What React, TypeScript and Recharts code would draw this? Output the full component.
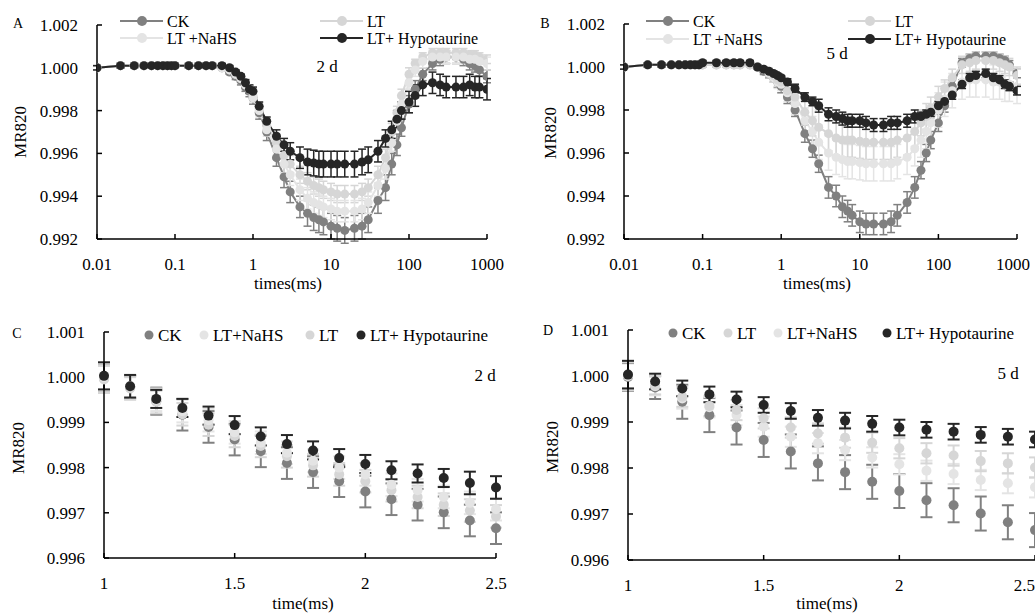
import React from "react";
import { LineChart, Line, XAxis, YAxis, ErrorBar, ScatterChart, Scatter } from "recharts";

const FONT = "Liberation Serif, serif";
const COLORS = { ck: "#808080", lt: "#d6d6d6", nahs: "#e4e4e4", hyp: "#262626" };

// MR820 induction, time points in ms (log axis)
const times = [
  0.01, 0.02, 0.03, 0.04, 0.05, 0.06, 0.07, 0.08, 0.09,
  0.1, 0.15, 0.2, 0.25, 0.3, 0.4, 0.5, 0.6, 0.7, 0.8, 0.9,
  1, 1.2, 1.5, 2, 2.5, 3, 4, 5, 6, 7, 8,
  10, 12, 15, 20, 25, 30, 40, 50, 60, 70, 80,
  100, 120, 150, 200, 250, 300, 400, 500, 600, 700, 800, 1000,
];
const logTicks = [0.01, 0.1, 1, 10, 100, 1000];

// 2 d
const ck2 = [
  1.0, 1.0001, 1.0001, 1.0001, 1.0001, 1.0001, 1.0001, 1.0001, 1.0001,
  1.0001, 1.0001, 1.0001, 1.0001, 1.0001, 1.0, 0.9998, 0.9996, 0.9994, 0.9991, 0.9989,
  0.9986, 0.9979, 0.997, 0.9958, 0.9949, 0.9942, 0.9935, 0.9932, 0.993, 0.9929, 0.9928,
  0.9926, 0.9925, 0.9924, 0.9925, 0.9926, 0.9929, 0.9938, 0.9944, 0.9955, 0.9964, 0.9972,
  0.9983, 0.999, 0.9997, 1.0002, 1.0004, 1.0005, 1.0005, 1.0004, 1.0002, 1.0001, 0.9999, 0.9996,
];
const lt2 = [
  1.0, 1.0001, 1.0001, 1.0001, 1.0001, 1.0001, 1.0001, 1.0001, 1.0001,
  1.0001, 1.0001, 1.0001, 1.0001, 1.0001, 1.0, 0.9999, 0.9997, 0.9995, 0.9992, 0.999,
  0.9987, 0.9981, 0.9973, 0.9965, 0.9959, 0.9955, 0.995, 0.9947, 0.9945, 0.9944, 0.9943,
  0.9942, 0.9941, 0.9941, 0.9941, 0.9942, 0.9944, 0.995, 0.9958, 0.997, 0.9979, 0.9987,
  0.9997, 1.0002, 1.0005, 1.0007, 1.0007, 1.0007, 1.0007, 1.0007, 1.0006, 1.0006, 1.0005, 1.0004,
];
const nahs2 = [
  1.0, 1.0001, 1.0001, 1.0001, 1.0001, 1.0001, 1.0001, 1.0001, 1.0001,
  1.0001, 1.0001, 1.0001, 1.0001, 1.0001, 1.0, 0.9999, 0.9997, 0.9995, 0.9992, 0.999,
  0.9986, 0.998, 0.9971, 0.9962, 0.9955, 0.995, 0.9943, 0.9939, 0.9937, 0.9936, 0.9935,
  0.9934, 0.9933, 0.9933, 0.9933, 0.9934, 0.9937, 0.9945, 0.9953, 0.9965, 0.9975, 0.9983,
  0.9993, 0.9999, 1.0003, 1.0005, 1.0005, 1.0005, 1.0005, 1.0005, 1.0004, 1.0004, 1.0003, 1.0002,
];
const hyp2 = [
  1.0, 1.0001, 1.0001, 1.0001, 1.0001, 1.0001, 1.0001, 1.0001, 1.0001,
  1.0001, 1.0001, 1.0001, 1.0001, 1.0001, 1.0001, 1.0, 0.9998, 0.9996, 0.9993, 0.999,
  0.9989, 0.9982, 0.9975, 0.9968, 0.9964, 0.9961, 0.9958, 0.9956, 0.99555, 0.9955, 0.9955,
  0.9955, 0.9955, 0.9955, 0.9955, 0.9956, 0.9957, 0.9961, 0.9967, 0.9971, 0.9976, 0.998,
  0.9984, 0.9987, 0.9992, 0.9993, 0.9992, 0.9991, 0.9991, 0.9991, 0.9992, 0.9991, 0.9991, 0.999,
];
const ck2Err = [
  0.0001, 0.0001, 0.0001, 0.0001, 0.0001, 0.0001, 0.0001, 0.0001, 0.0001,
  0.0001, 0.0001, 0.0001, 0.0001, 0.0001, 0.0001, 0.0001, 0.00015, 0.0002, 0.0002, 0.00025,
  0.0003, 0.0003, 0.0004, 0.0004, 0.0005, 0.0005, 0.0005, 0.0006, 0.0006, 0.0006, 0.0006,
  0.0006, 0.0006, 0.0006, 0.0006, 0.0006, 0.0006, 0.0006, 0.0006, 0.0005, 0.0005, 0.0004,
  0.0004, 0.0004, 0.0003, 0.0003, 0.0003, 0.0003, 0.0003, 0.0003, 0.0003, 0.0003, 0.0003, 0.0003,
];
const lt2Err = [
  0.0001, 0.0001, 0.0001, 0.0001, 0.0001, 0.0001, 0.0001, 0.0001, 0.0001,
  0.0001, 0.0001, 0.0001, 0.0001, 0.0001, 0.0001, 0.0001, 0.0001, 0.00015, 0.0002, 0.0002,
  0.0002, 0.0003, 0.0003, 0.0004, 0.0004, 0.0004, 0.0004, 0.0004, 0.0004, 0.0004, 0.0004,
  0.0004, 0.0004, 0.0004, 0.0004, 0.0004, 0.0004, 0.0004, 0.0004, 0.0004, 0.0003, 0.0003,
  0.0003, 0.0002, 0.0002, 0.0002, 0.0002, 0.0002, 0.0002, 0.0002, 0.0002, 0.0002, 0.0002, 0.0002,
];
const nahs2Err = [
  0.0001, 0.0001, 0.0001, 0.0001, 0.0001, 0.0001, 0.0001, 0.0001, 0.0001,
  0.0001, 0.0001, 0.0001, 0.0001, 0.0001, 0.0001, 0.0001, 0.0001, 0.00015, 0.0002, 0.0002,
  0.0002, 0.0003, 0.0003, 0.0004, 0.0004, 0.0005, 0.0005, 0.0005, 0.0005, 0.0005, 0.0005,
  0.0005, 0.0005, 0.0005, 0.0005, 0.0005, 0.0005, 0.0005, 0.0005, 0.0004, 0.0004, 0.0003,
  0.0003, 0.0003, 0.0003, 0.0003, 0.0003, 0.0003, 0.0003, 0.0003, 0.0003, 0.0003, 0.0003, 0.0003,
];
const hyp2Err = [
  0.0001, 0.0001, 0.0001, 0.0001, 0.0001, 0.0001, 0.0001, 0.0001, 0.0001,
  0.0001, 0.0001, 0.0001, 0.0001, 0.0001, 0.0001, 0.0001, 0.0001, 0.0001, 0.00015, 0.0002,
  0.0002, 0.0002, 0.0002, 0.0003, 0.0003, 0.0004, 0.0005, 0.0006, 0.0006, 0.0006, 0.0006,
  0.0006, 0.0006, 0.0006, 0.0006, 0.0006, 0.0006, 0.0005, 0.0004, 0.0004, 0.0004, 0.0004,
  0.0005, 0.0005, 0.0005, 0.0005, 0.0005, 0.0005, 0.0005, 0.0005, 0.0005, 0.0005, 0.0005, 0.0005,
];

// 5 d
const ck5 = [
  1.0, 1.0001, 1.0001, 1.0001, 1.0001, 1.0001, 1.0001, 1.0001, 1.0001,
  1.0001, 1.0001, 1.0001, 1.0001, 1.0001, 1.0001, 1.0, 0.9998, 0.9997, 0.9995, 0.9993,
  0.9991, 0.9986, 0.998, 0.9969, 0.9962, 0.9955, 0.9944, 0.994, 0.9935, 0.9933, 0.9931,
  0.9928, 0.9927, 0.9927, 0.9927, 0.9928, 0.9931, 0.9937, 0.9944, 0.9952, 0.996, 0.9966,
  0.9974, 0.9982, 0.9991, 1.0002, 1.0004, 1.0005, 1.0005, 1.0005, 1.0004, 1.0003, 1.0001, 0.9997,
];
const lt5 = [
  1.0, 1.0001, 1.0001, 1.0001, 1.0001, 1.0001, 1.0001, 1.0001, 1.0001,
  1.0001, 1.0001, 1.0001, 1.0001, 1.0001, 1.0001, 1.0, 0.9999, 0.9998, 0.9996, 0.9994,
  0.9993, 0.9989, 0.9986, 0.9979, 0.9975, 0.9972, 0.9969, 0.9967, 0.9966, 0.9966, 0.9966,
  0.99655, 0.9965, 0.9965, 0.9965, 0.9965, 0.9966, 0.9967, 0.997, 0.9974, 0.9977, 0.9981,
  0.9986, 0.999, 0.9995, 1.0001, 1.0002, 1.0003, 1.0003, 1.0003, 1.0002, 1.0001, 1.0, 0.9996,
];
const nahs5 = [
  1.0, 1.0001, 1.0001, 1.0001, 1.0001, 1.0001, 1.0001, 1.0001, 1.0001,
  1.0001, 1.0001, 1.0001, 1.0001, 1.0001, 1.0001, 1.0, 0.9999, 0.9997, 0.9995, 0.9993,
  0.9992, 0.9988, 0.9983, 0.9975, 0.997, 0.9965, 0.996, 0.9958, 0.9957, 0.9956, 0.9956,
  0.99555, 0.9955, 0.9955, 0.9955, 0.9955, 0.9956, 0.9958, 0.9962, 0.9966, 0.997, 0.9974,
  0.998, 0.9985, 0.9989, 0.9993, 0.9994, 0.9994, 0.9994, 0.9993, 0.9993, 0.9992, 0.9992, 0.9991,
];
const hyp5 = [
  1.0, 1.0001, 1.0001, 1.0001, 1.0001, 1.0001, 1.0001, 1.0001, 1.0001,
  1.0002, 1.0002, 1.0002, 1.0002, 1.0002, 1.0002, 1.0, 0.9999, 0.9998, 0.9997, 0.9996,
  0.9995, 0.9993, 0.999, 0.9986, 0.9984, 0.9982, 0.9978, 0.9977, 0.9976, 0.9975, 0.9975,
  0.9975, 0.9974, 0.9973, 0.9973, 0.9974, 0.9974, 0.9975, 0.9977, 0.9977, 0.9978, 0.9979,
  0.9982, 0.9984, 0.9987, 0.9992, 0.9995, 0.9996, 0.9997, 0.9995, 0.9994, 0.9992, 0.9991, 0.9989,
];
const ck5Err = [
  0.0001, 0.0001, 0.0001, 0.0001, 0.0001, 0.0001, 0.0001, 0.0001, 0.0001,
  0.0001, 0.0001, 0.0001, 0.0001, 0.0001, 0.0001, 0.0001, 0.00015, 0.0002, 0.0002, 0.00025,
  0.0003, 0.0003, 0.0003, 0.0004, 0.0004, 0.0004, 0.0005, 0.0005, 0.0005, 0.0005, 0.0005,
  0.0005, 0.0005, 0.0005, 0.0005, 0.0005, 0.0005, 0.0005, 0.0005, 0.0004, 0.0004, 0.0004,
  0.0004, 0.0003, 0.0003, 0.0002, 0.0002, 0.0002, 0.0002, 0.0002, 0.0002, 0.0002, 0.0002, 0.0002,
];
const lt5Err = [
  0.0001, 0.0001, 0.0001, 0.0001, 0.0001, 0.0001, 0.0001, 0.0001, 0.0001,
  0.0001, 0.0001, 0.0001, 0.0001, 0.0001, 0.0001, 0.0001, 0.0001, 0.00015, 0.0002, 0.0003,
  0.0003, 0.0004, 0.0005, 0.0006, 0.0007, 0.0008, 0.0008, 0.0008, 0.0008, 0.0008, 0.0008,
  0.0008, 0.0008, 0.0008, 0.0008, 0.0008, 0.0008, 0.0008, 0.0007, 0.0006, 0.0006, 0.0005,
  0.0005, 0.0004, 0.0004, 0.0004, 0.0004, 0.0004, 0.0004, 0.0004, 0.0004, 0.0004, 0.0004, 0.0004,
];
const nahs5Err = [
  0.0001, 0.0001, 0.0001, 0.0001, 0.0001, 0.0001, 0.0001, 0.0001, 0.0001,
  0.0001, 0.0001, 0.0001, 0.0001, 0.0001, 0.0001, 0.0001, 0.0001, 0.00015, 0.0002, 0.0003,
  0.0003, 0.0004, 0.0005, 0.0006, 0.0007, 0.0008, 0.0008, 0.0008, 0.0008, 0.0008, 0.0008,
  0.0008, 0.0008, 0.0008, 0.0008, 0.0008, 0.0008, 0.0008, 0.0008, 0.0008, 0.0008, 0.0008,
  0.0008, 0.0008, 0.0008, 0.0008, 0.0008, 0.0008, 0.0008, 0.0008, 0.0008, 0.0008, 0.0008, 0.0008,
];
const hyp5Err = [
  0.0001, 0.0001, 0.0001, 0.0001, 0.0001, 0.0001, 0.0001, 0.0001, 0.0001,
  0.0001, 0.0001, 0.0001, 0.0001, 0.0001, 0.0001, 0.0001, 0.0001, 0.0001, 0.0001, 0.0001,
  0.0001, 0.00015, 0.0002, 0.0002, 0.0002, 0.0003, 0.0003, 0.0003, 0.0003, 0.0003, 0.0003,
  0.0003, 0.0003, 0.0003, 0.0003, 0.0003, 0.0003, 0.0003, 0.0003, 0.0002, 0.0002, 0.0002,
  0.0002, 0.0002, 0.0002, 0.0002, 0.0002, 0.0002, 0.0002, 0.0002, 0.0002, 0.0002, 0.0002, 0.0002,
];

// 1 - 2.5 ms detail
const tDetail = [1, 1.1, 1.2, 1.3, 1.4, 1.5, 1.6, 1.7, 1.8, 1.9, 2, 2.1, 2.2, 2.3, 2.4, 2.5];
const linTicks = [1, 1.5, 2, 2.5];

const ckC = [0.99998, 0.99978, 0.99947, 0.99917, 0.9989, 0.99862, 0.99836, 0.9981, 0.9979, 0.9977, 0.99747, 0.9973, 0.99718, 0.99701, 0.99683, 0.99666];
const nahsC = [1.0, 0.9998, 0.9995, 0.99925, 0.99905, 0.99878, 0.99855, 0.99833, 0.99815, 0.998, 0.99785, 0.99762, 0.9975, 0.99735, 0.99722, 0.99708];
const ltC = [0.99995, 0.99975, 0.99945, 0.99918, 0.99895, 0.9987, 0.99848, 0.99825, 0.99805, 0.99785, 0.9977, 0.9975, 0.99735, 0.99718, 0.99705, 0.99692];
const hypC = [1.00003, 0.9998, 0.99952, 0.99932, 0.99915, 0.99894, 0.99869, 0.99852, 0.99838, 0.99821, 0.99808, 0.99794, 0.99787, 0.99777, 0.99766, 0.99756];
const ckCErr = [0.0003, 0.00025, 0.0003, 0.00035, 0.00035, 0.00035, 0.00035, 0.00035, 0.00035, 0.00035, 0.00035, 0.00035, 0.00035, 0.00035, 0.00035, 0.00035];
const nahsCErr = [0.0003, 0.00025, 0.00025, 0.00025, 0.00025, 0.00025, 0.00025, 0.00025, 0.00025, 0.00025, 0.00025, 0.00025, 0.00025, 0.00025, 0.00025, 0.00025];
const ltCErr = [0.0003, 0.00025, 0.00025, 0.00025, 0.00025, 0.00025, 0.00025, 0.00025, 0.00025, 0.00025, 0.00025, 0.00025, 0.00025, 0.00025, 0.00025, 0.00025];
const hypCErr = [0.0003, 0.00025, 0.0002, 0.0002, 0.0002, 0.0002, 0.0002, 0.0002, 0.0002, 0.0002, 0.0002, 0.0002, 0.0002, 0.0002, 0.00025, 0.00025];

const ckD = [0.99998, 0.99975, 0.99944, 0.99915, 0.99888, 0.99861, 0.99836, 0.9981, 0.99791, 0.9977, 0.9975, 0.9973, 0.99719, 0.99701, 0.99682, 0.99665];
const ltD = [1.0, 0.9998, 0.99955, 0.99935, 0.99926, 0.99908, 0.99888, 0.99875, 0.99866, 0.99855, 0.99843, 0.99832, 0.99827, 0.99815, 0.9981, 0.99801];
const nahsD = [1.0, 0.99978, 0.99951, 0.99932, 0.99915, 0.9989, 0.99868, 0.99854, 0.99839, 0.99823, 0.99808, 0.99794, 0.99787, 0.99774, 0.99767, 0.99758];
const hypD = [1.00003, 0.99988, 0.99973, 0.9996, 0.99949, 0.99937, 0.99924, 0.99909, 0.99903, 0.99896, 0.99888, 0.99883, 0.99879, 0.99872, 0.99868, 0.99862];
const ckDErr = [0.0003, 0.00025, 0.00037, 0.00037, 0.00037, 0.00037, 0.00037, 0.00037, 0.00037, 0.00037, 0.00037, 0.00037, 0.00037, 0.00037, 0.00037, 0.00037];
const ltDErr = [0.0003, 0.0002, 0.00022, 0.00022, 0.00022, 0.00022, 0.00022, 0.00022, 0.00022, 0.00022, 0.00022, 0.00022, 0.00022, 0.00022, 0.00022, 0.00022];
const nahsDErr = [0.0003, 0.0002, 0.00022, 0.00022, 0.00022, 0.00022, 0.00022, 0.00022, 0.00022, 0.00022, 0.00022, 0.00022, 0.00022, 0.00022, 0.00022, 0.00022];
const hypDErr = [0.0003, 0.00017, 0.00017, 0.00017, 0.00017, 0.00017, 0.00017, 0.00017, 0.00017, 0.00017, 0.00017, 0.00017, 0.00017, 0.00017, 0.00017, 0.00017];

const FS = 17;
const tickStyle = { fontFamily: FONT, fontSize: FS, fill: "#000" };
const axisLine = { stroke: "#000", strokeWidth: 1.5 };

type S = { key: string; vals: number[]; err: number[]; color: string };

function LogPanel({ series, left, margin }: { series: S[]; left: number; margin: any }) {
  const data = times.map((t, i) => {
    const row: any = { t };
    series.forEach((s) => {
      row[s.key] = s.vals[i];
      row[s.key + "E"] = s.err[i];
    });
    return row;
  });
  return (
    <div style={{ position: "absolute", left, top: 0 }}>
      <LineChart width={515} height={300} data={data} margin={margin}>
        <XAxis
          dataKey="t"
          type="number"
          scale="log"
          domain={[0.01, 1000]}
          ticks={logTicks}
          allowDataOverflow
          height={30}
          tick={tickStyle}
          tickSize={-5}
          tickMargin={24}
          axisLine={axisLine}
          tickLine={axisLine}
        />
        <YAxis
          type="number"
          domain={[0.992, 1.002]}
          ticks={[0.992, 0.994, 0.996, 0.998, 1.0, 1.002]}
          allowDataOverflow
          width={60}
          tick={tickStyle}
          tickFormatter={(v: number) => v.toFixed(3)}
          tickSize={-5}
          tickMargin={24}
          axisLine={axisLine}
          tickLine={axisLine}
        />
        {series.map((s) => (
          <Line
            key={s.key}
            dataKey={s.key}
            stroke={s.color}
            strokeWidth={2}
            dot={{ r: 4.5, fill: s.color, stroke: "none" }}
            activeDot={false}
            isAnimationActive={false}
          >
            <ErrorBar dataKey={s.key + "E"} direction="y" width={4} stroke={s.color} strokeWidth={1.5} />
          </Line>
        ))}
      </LineChart>
    </div>
  );
}

function DetailPanel({ series, left, margin }: { series: S[]; left: number; margin: any }) {
  return (
    <div style={{ position: "absolute", left, top: 300 }}>
      <ScatterChart width={520} height={316} margin={margin}>
        <XAxis
          dataKey="x"
          type="number"
          domain={[1, 2.5]}
          ticks={linTicks}
          height={30}
          tick={tickStyle}
          tickSize={-5}
          tickMargin={24}
          axisLine={axisLine}
          tickLine={axisLine}
        />
        <YAxis
          dataKey="y"
          type="number"
          domain={[0.996, 1.001]}
          ticks={[0.996, 0.997, 0.998, 0.999, 1.0, 1.001]}
          width={60}
          tick={tickStyle}
          tickFormatter={(v: number) => v.toFixed(3)}
          tickSize={-5}
          tickMargin={24}
          axisLine={axisLine}
          tickLine={axisLine}
        />
        {series.map((s) => (
          <Scatter
            key={s.key}
            data={tDetail.map((x, i) => ({ x, y: s.vals[i], e: s.err[i] }))}
            fill={s.color}
            isAnimationActive={false}
            shape={(p: any) => <circle cx={p.cx} cy={p.cy} r={5} fill={s.color} />}
          >
            <ErrorBar dataKey="e" direction="y" width={6} stroke={s.color} strokeWidth={2} />
          </Scatter>
        ))}
      </ScatterChart>
    </div>
  );
}

function LineKey({ x, y, color, label }: { x: number; y: number; color: string; label: string }) {
  return (
    <g>
      <line x1={x} x2={x + 43} y1={y} y2={y} stroke={color} strokeWidth={2} />
      <circle cx={x + 22} cy={y} r={5} fill={color} />
      <text x={x + 47} y={y} dominantBaseline="central" fontFamily={FONT} fontSize={16}>
        {label}
      </text>
    </g>
  );
}

function DotKey({ x, y, color, label }: { x: number; y: number; color: string; label: string }) {
  return (
    <g>
      <circle cx={x} cy={y} r={4.5} fill={color} />
      <text x={x + 9} y={y} dominantBaseline="central" fontFamily={FONT} fontSize={FS}>
        {label}
      </text>
    </g>
  );
}

function T({ x, y, s, size = FS, rot = false }: { x: number; y: number; s: string; size?: number; rot?: boolean }) {
  return (
    <text
      x={x}
      y={y}
      textAnchor="middle"
      dominantBaseline="central"
      fontFamily={FONT}
      fontSize={size}
      transform={rot ? `rotate(-90 ${x} ${y})` : undefined}
    >
      {s}
    </text>
  );
}

export default function App() {
  const s2: S[] = [
    { key: "ck", vals: ck2, err: ck2Err, color: COLORS.ck },
    { key: "lt", vals: lt2, err: lt2Err, color: COLORS.lt },
    { key: "nahs", vals: nahs2, err: nahs2Err, color: COLORS.nahs },
    { key: "hyp", vals: hyp2, err: hyp2Err, color: COLORS.hyp },
  ];
  const s5: S[] = [
    { key: "ck", vals: ck5, err: ck5Err, color: COLORS.ck },
    { key: "nahs", vals: nahs5, err: nahs5Err, color: COLORS.nahs },
    { key: "lt", vals: lt5, err: lt5Err, color: COLORS.lt },
    { key: "hyp", vals: hyp5, err: hyp5Err, color: COLORS.hyp },
  ];
  const sC: S[] = [
    { key: "ck", vals: ckC, err: ckCErr, color: COLORS.ck },
    { key: "lt", vals: ltC, err: ltCErr, color: COLORS.lt },
    { key: "nahs", vals: nahsC, err: nahsCErr, color: COLORS.nahs },
    { key: "hyp", vals: hypC, err: hypCErr, color: COLORS.hyp },
  ];
  const sD: S[] = [
    { key: "ck", vals: ckD, err: ckDErr, color: COLORS.ck },
    { key: "nahs", vals: nahsD, err: nahsDErr, color: COLORS.nahs },
    { key: "lt", vals: ltD, err: ltDErr, color: COLORS.lt },
    { key: "hyp", vals: hypD, err: hypDErr, color: COLORS.hyp },
  ];

  return (
    <div
      style={{
        position: "absolute",
        left: 0,
        top: 0,
        width: 1035,
        height: 616,
        background: "#fff",
        overflow: "hidden",
        fontFamily: FONT,
      }}
    >
      <LogPanel series={s2} left={0} margin={{ top: 25, right: 28, bottom: 31, left: 37 }} />
      <LogPanel series={s5} left={515} margin={{ top: 24, right: 13, bottom: 31, left: 49 }} />
      <DetailPanel series={sC} left={0} margin={{ top: 32, right: 24, bottom: 28, left: 44 }} />
      <DetailPanel series={sD} left={515} margin={{ top: 30, right: 0, bottom: 26, left: 53 }} />

      <svg width={1035} height={616} style={{ position: "absolute", left: 0, top: 0, pointerEvents: "none" }}>
        <T x={18} y={23} s="A" size={14} />
        <T x={20} y={132} s="MR820" rot />
        <T x={288} y={283} s="times(ms)" />
        <T x={327} y={66} s="2 d" />
        <LineKey x={120} y={21} color={COLORS.ck} label="CK" />
        <LineKey x={320} y={21} color={COLORS.lt} label="LT" />
        <LineKey x={120} y={38} color={COLORS.nahs} label="LT +NaHS" />
        <LineKey x={320} y={38} color={COLORS.hyp} label="LT+ Hypotaurine" />

        <T x={545} y={23} s="B" size={14} />
        <T x={550} y={133} s="MR820" rot />
        <T x={817} y={283} s="times(ms)" />
        <T x={837} y={53} s="5 d" />
        <LineKey x={646} y={21} color={COLORS.ck} label="CK" />
        <LineKey x={848} y={21} color={COLORS.lt} label="LT" />
        <LineKey x={646} y={39} color={COLORS.nahs} label="LT +NaHS" />
        <LineKey x={848} y={39} color={COLORS.hyp} label="LT+ Hypotaurine" />

        <T x={17} y={333} s="C" size={14} />
        <T x={18} y={448} s="MR820" rot />
        <T x={303} y={603} s="time(ms)" />
        <T x={485} y={375} s="2 d" />
        <DotKey x={149} y={335} color={COLORS.ck} label="CK" />
        <DotKey x={204} y={335} color={COLORS.nahs} label="LT+NaHS" />
        <DotKey x={310} y={335} color={COLORS.lt} label="LT" />
        <DotKey x={361} y={335} color={COLORS.hyp} label="LT+ Hypotaurine" />

        <T x={548} y={330} s="D" size={14} />
        <T x={552} y={447} s="MR820" rot />
        <T x={827} y={603} s="time(ms)" />
        <T x={1008} y={373} s="5 d" />
        <DotKey x={673} y={333} color={COLORS.ck} label="CK" />
        <DotKey x={728} y={333} color={COLORS.lt} label="LT" />
        <DotKey x={778} y={333} color={COLORS.nahs} label="LT+NaHS" />
        <DotKey x={887} y={333} color={COLORS.hyp} label="LT+ Hypotaurine" />
      </svg>
    </div>
  );
}
